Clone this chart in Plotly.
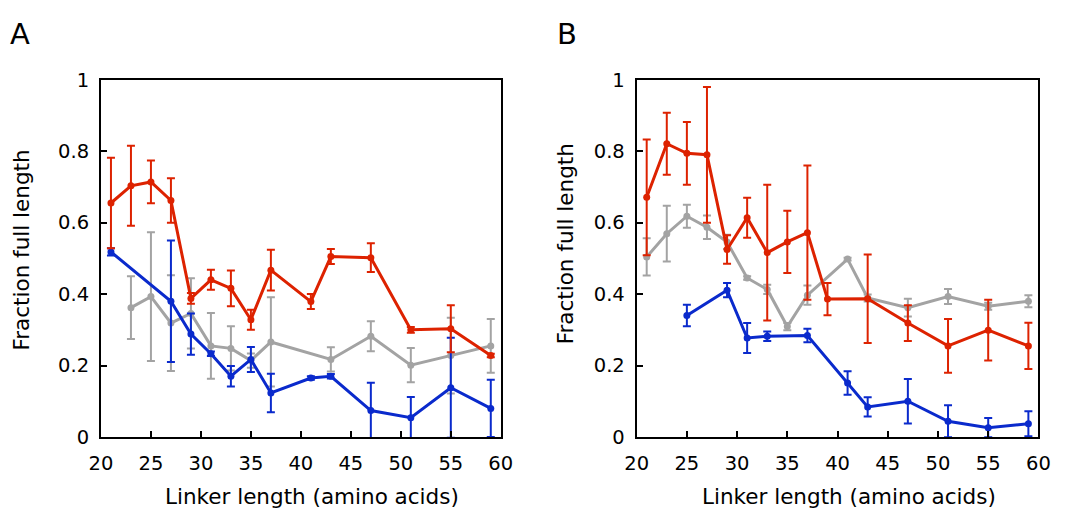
import plotly.graph_objects as go

# ---- Panel A data ----
a_red_x = [21, 23, 25, 27, 29, 31, 33, 35, 37, 41, 43, 47, 51, 55, 59]
a_red_y = [0.655, 0.703, 0.714, 0.662, 0.388, 0.440, 0.416, 0.328, 0.467, 0.379, 0.505, 0.502, 0.300, 0.303, 0.228]
a_red_e = [0.127, 0.112, 0.060, 0.062, 0.015, 0.028, 0.050, 0.028, 0.057, 0.021, 0.021, 0.040, 0.008, 0.066, 0.005]

a_blue_x = [21, 27, 29, 31, 33, 35, 37, 41, 43, 47, 51, 55, 59]
a_blue_y = [0.518, 0.380, 0.288, 0.233, 0.170, 0.217, 0.123, 0.165, 0.170, 0.074, 0.054, 0.138, 0.080]
a_blue_e = [0.010, 0.170, 0.058, 0.006, 0.029, 0.035, 0.054, 0.005, 0.006, 0.078, 0.058, 0.140, 0.080]

a_grey_x = [23, 25, 27, 29, 31, 33, 35, 37, 43, 47, 51, 55, 59]
a_grey_y = [0.362, 0.393, 0.319, 0.346, 0.255, 0.248, 0.214, 0.266, 0.217, 0.282, 0.201, 0.228, 0.255]
a_grey_e = [0.088, 0.180, 0.134, 0.098, 0.092, 0.062, 0.020, 0.125, 0.034, 0.042, 0.048, 0.106, 0.075]

# ---- Panel B data ----
b_red_x = [21, 23, 25, 27, 29, 31, 33, 35, 37, 39, 43, 47, 51, 55, 59]
b_red_y = [0.671, 0.821, 0.794, 0.790, 0.525, 0.614, 0.516, 0.546, 0.572, 0.386, 0.387, 0.319, 0.255, 0.299, 0.255]
b_red_e = [0.162, 0.087, 0.088, 0.190, 0.040, 0.056, 0.190, 0.087, 0.188, 0.045, 0.124, 0.050, 0.075, 0.085, 0.065]

b_blue_x = [25, 29, 31, 33, 37, 41, 43, 47, 51, 55, 59]
b_blue_y = [0.340, 0.411, 0.277, 0.282, 0.284, 0.151, 0.084, 0.100, 0.044, 0.026, 0.037]
b_blue_e = [0.030, 0.020, 0.042, 0.013, 0.019, 0.033, 0.027, 0.062, 0.045, 0.027, 0.035]

b_grey_x = [21, 23, 25, 27, 29, 31, 33, 35, 37, 41, 43, 47, 51, 55, 59]
b_grey_y = [0.504, 0.569, 0.618, 0.587, 0.546, 0.445, 0.413, 0.309, 0.397, 0.498, 0.389, 0.362, 0.393, 0.366, 0.380]
b_grey_e = [0.052, 0.078, 0.032, 0.033, 0.020, 0.005, 0.013, 0.010, 0.027, 0.004, 0.010, 0.025, 0.021, 0.010, 0.017]

x_ticks = [20, 25, 30, 35, 40, 45, 50, 55, 60]
y_ticks = [0, 0.2, 0.4, 0.6, 0.8, 1]
x_title = "Linker length (amino acids)"
y_title = "Fraction full length"

RED = "#dd2200"
BLUE = "#0a2acc"
GREY = "#a3a3a3"
FONT = "DejaVu Sans"

fig = go.Figure()


def add_series(x, y, e, color, xa, ya):
    fig.add_trace(go.Scatter(
        x=x, y=y, mode="lines+markers",
        line=dict(color=color, width=3),
        marker=dict(color=color, size=7),
        error_y=dict(type="data", array=e, visible=True, color=color,
                     thickness=2, width=4),
        xaxis=xa, yaxis=ya, showlegend=False,
    ))


for xa, ya, series in [
    ("x", "y", [(a_grey_x, a_grey_y, a_grey_e, GREY),
                (a_blue_x, a_blue_y, a_blue_e, BLUE),
                (a_red_x, a_red_y, a_red_e, RED)]),
    ("x2", "y2", [(b_grey_x, b_grey_y, b_grey_e, GREY),
                  (b_blue_x, b_blue_y, b_blue_e, BLUE),
                  (b_red_x, b_red_y, b_red_e, RED)]),
]:
    for x, y, e, c in series:
        add_series(x, y, e, c, xa, ya)

W, H = 1069, 512
a_left, a_right = 91, 500
b_left, b_right = 639, 1050
top, bottom = 72, 446

x_common = dict(range=[20, 60], tickvals=x_ticks, ticks="inside", ticklen=6,
                tickwidth=2, tickcolor="black", showline=True, linecolor="black",
                linewidth=2, mirror=True, showgrid=False, zeroline=False,
                ticklabelstandoff=8,
                tickfont=dict(family=FONT, size=19.5, color="black"))
y_common = dict(range=[0, 1], tickvals=y_ticks, ticks="inside", ticklen=6,
                tickwidth=2, tickcolor="black", showline=True, linecolor="black",
                linewidth=2, mirror=True, showgrid=False, zeroline=False,
                ticklabelstandoff=6,
                tickfont=dict(family=FONT, size=19.5, color="black"))

fig.update_layout(
    width=W, height=H,
    margin=dict(l=0, r=0, t=0, b=0),
    paper_bgcolor="white", plot_bgcolor="white",
    xaxis=dict(domain=[a_left / W, a_right / W], anchor="y", **x_common),
    yaxis=dict(domain=[1 - bottom / H, 1 - top / H], anchor="x", **y_common),
    xaxis2=dict(domain=[b_left / W, b_right / W], anchor="y2", **x_common),
    yaxis2=dict(domain=[1 - bottom / H, 1 - top / H], anchor="x2", **y_common),
)

annots = [
    dict(text="A", x=8 / W, y=1 - 24 / H),
    dict(text="B", x=568 / W, y=1 - 24 / H),
]
for a in annots:
    fig.add_annotation(xref="paper", yref="paper", showarrow=False,
                       xanchor="center", yanchor="middle",
                       font=dict(family=FONT, size=29, color="black"), **a)

for cx in (307, 856):
    fig.add_annotation(text=x_title, xref="paper", yref="paper", showarrow=False,
                       x=cx / W, y=1 - 508 / H, xanchor="center", yanchor="middle",
                       font=dict(family=FONT, size=21.5, color="black"))
for cx, cy in ((10, 250), (566, 244)):
    fig.add_annotation(text=y_title, xref="paper", yref="paper", showarrow=False,
                       x=cx / W, y=1 - cy / H, xanchor="center", yanchor="middle",
                       textangle=-90,
                       font=dict(family=FONT, size=21.5, color="black"))

fig.write_html("out.html")
